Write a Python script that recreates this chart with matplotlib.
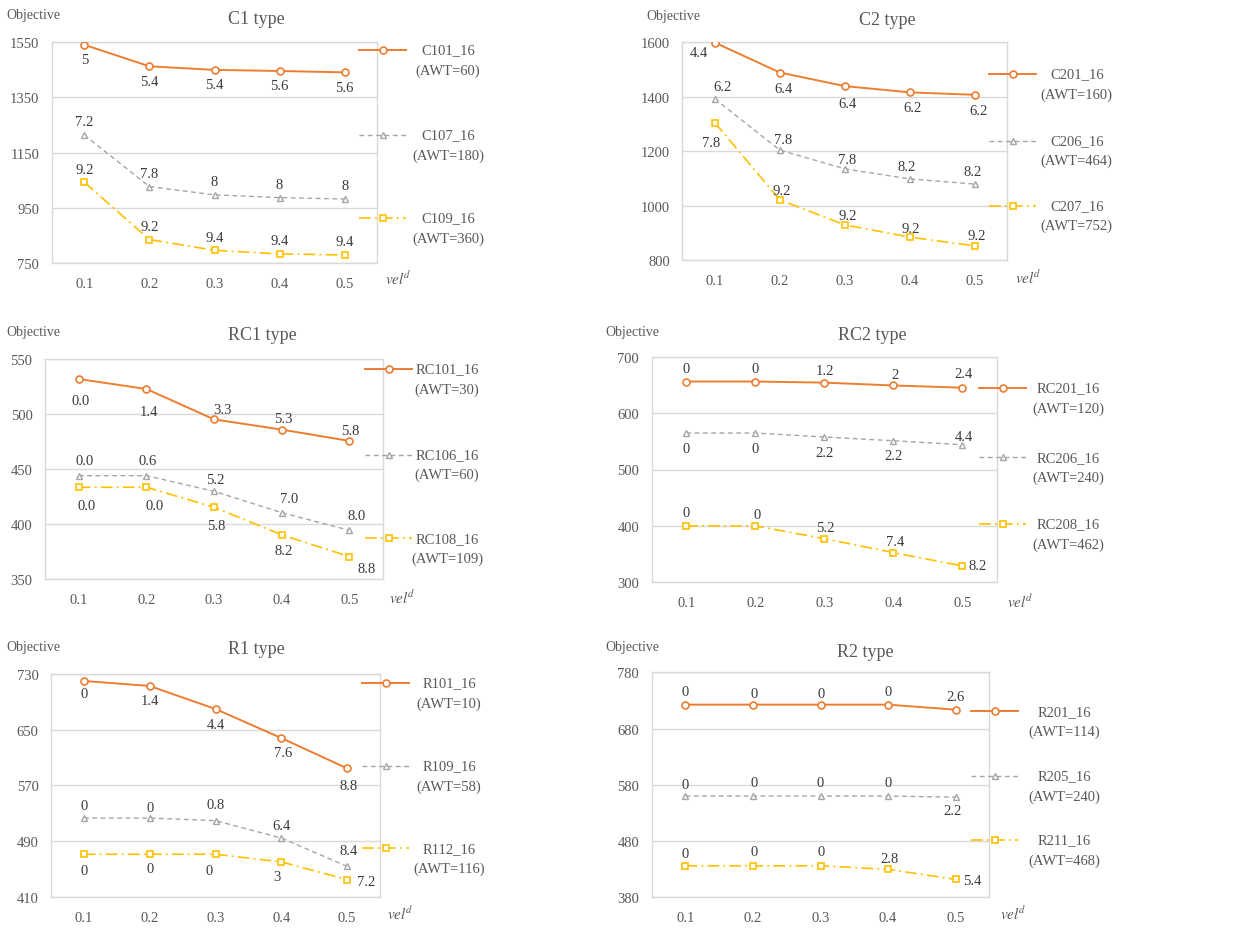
#!/usr/bin/env python3
"""Objective vs. vel^d for the six instance groups (C1, C2, RC1, RC2, R1, R2)."""
import matplotlib
matplotlib.use("Agg")
import matplotlib.pyplot as plt
from matplotlib.lines import Line2D

plt.rcParams["font.family"] = ["Liberation Serif", "DejaVu Serif"]
plt.rcParams["mathtext.fontset"] = "stix"

W, H = 1238, 929

veld = ["0.1", "0.2", "0.3", "0.4", "0.5"]

# --- C1 ---
c1_names = ["C101_16", "C107_16", "C109_16"]
c1_awt = [60, 180, 360]
c1_obj = [[1541, 1463, 1450, 1446, 1441],
          [1214, 1027, 997, 987, 982],
          [1043, 835, 796, 783, 779]]
c1_lbl = [["5", "5.4", "5.4", "5.6", "5.6"],
          ["7.2", "7.8", "8", "8", "8"],
          ["9.2", "9.2", "9.4", "9.4", "9.4"]]

# --- C2 ---
c2_names = ["C201_16", "C206_16", "C207_16"]
c2_awt = [160, 464, 752]
c2_obj = [[1599, 1489, 1439, 1416, 1407],
          [1392, 1204, 1135, 1098, 1079],
          [1305, 1021, 929, 884, 852]]
c2_lbl = [["4.4", "6.4", "6.4", "6.2", "6.2"],
          ["6.2", "7.8", "7.8", "8.2", "8.2"],
          ["7.8", "9.2", "9.2", "9.2", "9.2"]]

# --- RC1 ---
rc1_names = ["RC101_16", "RC106_16", "RC108_16"]
rc1_awt = [30, 60, 109]
rc1_obj = [[531.8, 522.7, 495.1, 485.8, 475.5],
           [443.9, 443.9, 429.7, 410.3, 394.2],
           [433.4, 433.4, 415.2, 390.1, 370.4]]
rc1_lbl = [["0.0", "1.4", "3.3", "5.3", "5.8"],
           ["0.0", "0.6", "5.2", "7.0", "8.0"],
           ["0.0", "0.0", "5.8", "8.2", "8.8"]]

# --- RC2 ---
rc2_names = ["RC201_16", "RC206_16", "RC208_16"]
rc2_awt = [120, 240, 462]
rc2_obj = [[656, 656, 654, 649, 645],
           [564.7, 564.7, 557.6, 551, 544],
           [400, 400, 377.5, 352.7, 329]]
rc2_lbl = [["0", "0", "1.2", "2", "2.4"],
           ["0", "0", "2.2", "2.2", "4.4"],
           ["0", "0", "5.2", "7.4", "8.2"]]

# --- R1 ---
r1_names = ["R101_16", "R109_16", "R112_16"]
r1_awt = [10, 58, 116]
r1_obj = [[720, 712.8, 679.7, 638, 594.4],
          [523, 523, 519.3, 494.3, 453.6],
          [470.9, 471, 471, 460, 434.5]]
r1_lbl = [["0", "1.4", "4.4", "7.6", "8.8"],
          ["0", "0", "0.8", "6.4", "8.4"],
          ["0", "0", "0", "3", "7.2"]]

# --- R2 ---
r2_names = ["R201_16", "R205_16", "R211_16"]
r2_awt = [114, 240, 468]
r2_obj = [[722.5, 722.5, 722.5, 722.5, 713.6],
          [560, 560, 560, 560, 558],
          [436, 436, 436, 429.7, 411.9]]
r2_lbl = [["0", "0", "0", "0", "2.6"],
          ["0", "0", "0", "0", "2.2"],
          ["0", "0", "0", "2.8", "5.4"]]

# label offsets in pixels (dx, dy), "a" = above, "b" = below
A, B = "a", "b"
c1_pos = [[B] * 5, [A] * 5, [A] * 5]
c2_pos = [[(-16, -10), (4, -16), (3, -17), (3, -15), (4, -16)],
          [(8, 12), (3, 11), (2, 9), (-3, 12), (-2, 13)],
          [(-4, -20), (2, 9), (3, 9), (1, 9), (2, 10)]]
rc1_pos = [[(2, -21), (2, -22), (8, 10), (2, 11), (1, 10)],
           [(6, 15), (1, 15), (1, 12), (7, 14), (7, 15)],
           [(8, -18), (8, -18), (2, -18), (2, -16), (17, -12)]]
rc2_pos = [[A, A, (1, 12), (2, 11), (1, 14)],
           [B, B, B, B, (2, 8)],
           [A, (2, 11), (1, 11), (2, 11), (15, 0)]]
r1_pos = [[(0, -13), B, B, (2, -14), (2, -17)],
          [A, (0, 11), (0, 16), A, (2, 16)],
          [(0, -16), (0, -14), (-6, -16), (-4, -15), (19, -2)]]
r2_pos = [[A, (1, 11), (1, 11), A, A],
          [(0, 12), (1, 14), (0, 14), (0, 14), (-3, -13)],
          [(0, 12), (1, 14), (1, 14), (1, 11), (17, -1)]]

ORANGE, GRAY, GOLD = "#ED7D31", "#A5A5A5", "#FFC000"
styles = [
    dict(color=ORANGE, lw=1.4, ls="-", marker="o", ms=5, mew=1.2),
    dict(color=GRAY, lw=1.0, ls=(0, (3.5, 2.5)), marker="^", ms=4.5, mew=1.0),
    dict(color=GOLD, lw=1.2, ls=(0, (7, 2.5, 1.2, 2.5)), marker="s", ms=5, mew=1.2),
]
TXT, TICK, GRID = "#3A3A3A", "#595959", "#D9D9D9"
FS = 10.5

# panel layout in pixels: axes box (l, t, r, b), title centre, "Objective" anchor,
# vel^d centre, legend row heights, legend text centre x
panels = [
    dict(title="C1 type", names=c1_names, awt=c1_awt, obj=c1_obj, lbl=c1_lbl, pos=c1_pos,
         ylim=(750, 1550), step=200, box=(51.7, 43.3, 377.3, 264), tpos=(256.7, 20),
         ypos=(6, 16), xpos=(398, 278), rows=(51, 136, 219), legx=448),
    dict(title="C2 type", names=c2_names, awt=c2_awt, obj=c2_obj, lbl=c2_lbl, pos=c2_pos,
         ylim=(800, 1600), step=200, box=(682.3, 43.3, 1007.3, 261), tpos=(887.3, 20.7),
         ypos=(646.7, 16.7), xpos=(1028, 276.7), rows=(75, 141.7, 206.7), legx=1076.7),
    dict(title="RC1 type", names=rc1_names, awt=rc1_awt, obj=rc1_obj, lbl=rc1_lbl, pos=rc1_pos,
         ylim=(350, 550), step=50, box=(45, 360, 383.3, 580), tpos=(262, 336),
         ypos=(6, 332.7), xpos=(401.7, 597.3), rows=(370, 455.7, 539.3), legx=447),
    dict(title="RC2 type", names=rc2_names, awt=rc2_awt, obj=rc2_obj, lbl=rc2_lbl, pos=rc2_pos,
         ylim=(300, 700), step=100, box=(651.7, 357.7, 996.7, 583.3), tpos=(872.7, 336),
         ypos=(605, 332.7), xpos=(1020, 600.7), rows=(389, 458.3, 525), legx=1068.3),
    dict(title="R1 type", names=r1_names, awt=r1_awt, obj=r1_obj, lbl=r1_lbl, pos=r1_pos,
         ylim=(410, 730), step=80, box=(51, 675, 380, 897.7), tpos=(256, 650),
         ypos=(6, 647.3), xpos=(400, 912.7), rows=(684, 767, 849.3), legx=449),
    dict(title="R2 type", names=r2_names, awt=r2_awt, obj=r2_obj, lbl=r2_lbl, pos=r2_pos,
         ylim=(380, 780), step=100, box=(651.7, 673.3, 989.3, 898.3), tpos=(865.7, 652.3),
         ypos=(605, 647.3), xpos=(1013, 912.7), rows=(712.3, 777, 841), legx=1064),
]


def fx(px):
    return px / W


def fy(py):
    return 1 - py / H


fig = plt.figure(figsize=(W / 100, H / 100), dpi=100)

for p in panels:
    l, t, r, b = p["box"]
    ax = fig.add_axes([fx(l), fy(b), (r - l) / W, (b - t) / H])
    xs = range(len(veld))
    for obj, lbl, pos, st in zip(p["obj"], p["lbl"], p["pos"], styles):
        ax.plot(xs, obj, color=st["color"], lw=st["lw"], ls=st["ls"], marker=st["marker"],
                ms=st["ms"], mew=st["mew"], mfc="white", mec=st["color"], zorder=3,
                solid_capstyle="butt")
        for x, v, s, o in zip(xs, obj, lbl, pos):
            off = {"a": (0, 13), "b": (0, -15)}[o] if isinstance(o, str) else o
            ax.annotate(s, (x, v), xytext=off, textcoords="offset pixels",
                        ha="center", va="center", fontsize=FS, color=TXT, zorder=4)

    lo, hi = p["ylim"]
    ax.set_ylim(lo, hi)
    ax.set_yticks(range(lo, hi + 1, p["step"]))
    ax.set_xlim(-0.5, len(veld) - 0.5)
    ax.set_xticks(list(xs))
    ax.set_xticklabels(veld)
    ax.tick_params(length=0, labelsize=FS, labelcolor=TICK)
    ax.tick_params(axis="x", pad=10)
    ax.tick_params(axis="y", pad=9)
    ax.grid(axis="y", color=GRID, lw=1.0)
    ax.set_axisbelow(True)
    for sp in ax.spines.values():
        sp.set_color(GRID)
        sp.set_linewidth(1.0)

    fig.text(fx(p["tpos"][0]), fy(p["tpos"][1]), p["title"], ha="center", va="center",
             fontsize=13, color=TICK)
    fig.text(fx(p["ypos"][0]), fy(p["ypos"][1]), "Objective", ha="left", va="center",
             fontsize=FS - 0.5, color=TICK)
    fig.text(fx(p["xpos"][0]), fy(p["xpos"][1]), r"$vel^{\!d}$", ha="center", va="center",
             fontsize=FS + 0.5, color=TICK)

    # legend drawn by hand to the right of the plot area
    for name, awt, y, st in zip(p["names"], p["awt"], p["rows"], styles):
        ln = Line2D([fx(r - 18), fx(r + 6), fx(r + 29)], [fy(y)] * 3,
                    transform=fig.transFigure, color=st["color"], lw=st["lw"], ls=st["ls"],
                    marker=st["marker"], ms=st["ms"], mew=st["mew"], mfc="white",
                    mec=st["color"], markevery=[1])
        fig.add_artist(ln)
        fig.text(fx(p["legx"]), fy(y), name, ha="center", va="center", fontsize=FS, color=TICK)
        fig.text(fx(p["legx"]), fy(y + 20), f"(AWT={awt})", ha="center", va="center",
                 fontsize=FS, color=TICK)

fig.savefig("out.png", dpi=100, facecolor="white")
